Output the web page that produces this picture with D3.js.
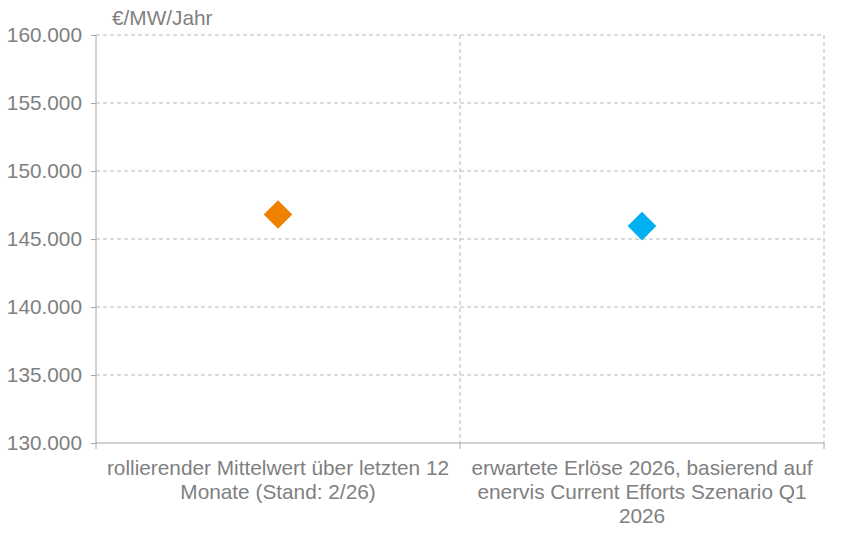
<!DOCTYPE html>
<html><head><meta charset="utf-8">
<script src="https://cdn.jsdelivr.net/npm/d3@7"></script>
<style>body{margin:0;background:#fff}svg text{font-family:"Liberation Sans",Arial,sans-serif}</style>
</head><body>
<svg id="c" width="851" height="557"></svg>
<script>
const categories = [
  ["rollierender Mittelwert über letzten 12", "Monate (Stand: 2/26)"],
  ["erwartete Erlöse 2026, basierend auf", "enervis Current Efforts Szenario Q1", "2026"]
];
const values = [146800, 145950];
const colors = ["#EE8100", "#00B0F0"];
const yTicks = [130000, 135000, 140000, 145000, 150000, 155000, 160000];
const unitLabel = "€/MW/Jahr";

const svg = d3.select("#c");
const m = {l:96, r:824, t:35, b:443};
const x = d3.scaleBand().domain(d3.range(categories.length)).range([m.l, m.r]).padding(0);
const y = d3.scaleLinear().domain([130000,160000]).range([m.b, m.t]);
const fmt = v => d3.format(",.0f")(v).replace(/,/g, ".");
const gray = "#a6a6a6", textCol = "#7f7f7f";
const fs = 20.8;

svg.append("g").selectAll("line").data(yTicks.filter(t=>t>130000)).join("line")
  .attr("x1", m.l).attr("x2", m.r).attr("y1", d=>y(d)).attr("y2", d=>y(d))
  .attr("stroke", "#b8b8b8").attr("stroke-dasharray","4,3").attr("stroke-width",1);
const bounds = categories.map((c,i)=>x(i)+x.bandwidth());
svg.append("g").selectAll("line").data(bounds).join("line")
  .attr("x1", d=>d).attr("x2", d=>d).attr("y1", m.t).attr("y2", m.b)
  .attr("stroke", "#b8b8b8").attr("stroke-dasharray","4,3").attr("stroke-width",1);

const ya = svg.append("g").attr("transform", `translate(${m.l},0)`)
  .call(d3.axisLeft(y).tickValues(yTicks).tickFormat(fmt).tickSize(5).tickPadding(9));
ya.select(".domain").attr("stroke", gray).attr("d", `M0,${m.t}V${m.b}`);
ya.selectAll(".tick line").attr("stroke", gray);
ya.selectAll(".tick text").attr("fill", textCol).attr("font-size", fs);

const xa = svg.append("g").attr("transform", `translate(0,${m.b})`);
xa.append("line").attr("x1", m.l).attr("x2", m.r).attr("stroke", gray);
xa.selectAll("line.t").data([m.l, ...bounds]).join("line").attr("class","t")
  .attr("x1", d=>d).attr("x2", d=>d).attr("y1",0).attr("y2",6).attr("stroke", gray);
categories.forEach((lines,i)=>{
  const t = xa.append("text").attr("text-anchor","middle").attr("fill", textCol).attr("font-size",fs)
    .attr("transform", `translate(${x(i)+x.bandwidth()/2},32)`);
  lines.forEach((l,j)=>t.append("tspan").attr("x",0).attr("dy", j?24:0).text(l));
});

svg.append("text").attr("x", 112).attr("y", 25).attr("fill", textCol).attr("font-size",fs).text(unitLabel);

svg.append("g").selectAll("path").data(values).join("path")
  .attr("d", d3.symbol().type(d3.symbolSquare).size(410))
  .attr("transform", (d,i)=>`translate(${x(i)+x.bandwidth()/2},${y(d)}) rotate(45)`)
  .attr("fill", (d,i)=>colors[i]);
</script>
</body></html>
